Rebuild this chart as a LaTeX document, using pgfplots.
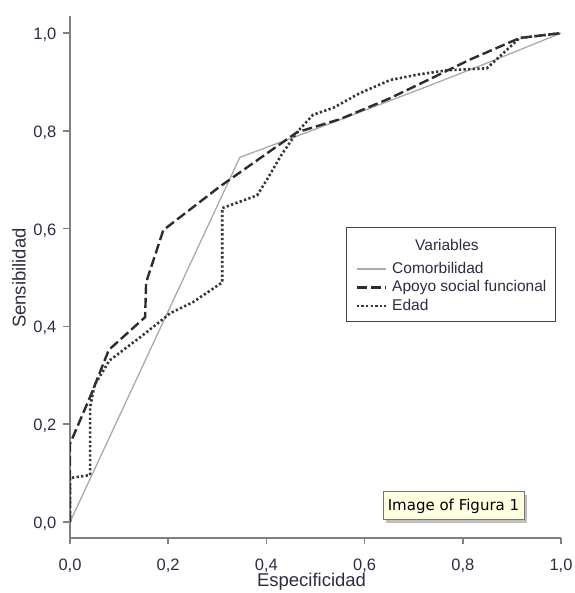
\documentclass[border=0pt]{standalone}
\usepackage{fontspec}
\setmainfont{Liberation Sans}
\newfontfamily\tipfont{DejaVu Sans}
\usepackage{pgfplots}
\pgfplotsset{compat=1.18}
\definecolor{axgray}{RGB}{128,128,128}
\definecolor{txt}{RGB}{45,45,65}
\definecolor{comgray}{RGB}{170,170,170}
\definecolor{dark}{RGB}{45,45,45}
\definecolor{dotc}{RGB}{55,55,55}
\definecolor{tipfill}{RGB}{255,255,225}
\definecolor{legdraw}{RGB}{70,70,70}
\begin{document}
\begin{tikzpicture}
\begin{axis}[
  at={(70bp,55bp)}, anchor=south west,
  scale only axis, width=491bp, height=522bp,
  xmin=0, xmax=1, ymin=-0.0327, ymax=1.035,
  axis x line*=bottom, axis y line*=left,
  axis line style={axgray, line width=1.5bp, -},
  xtick={0,0.2,0.4,0.6,0.8,1}, ytick={0,0.2,0.4,0.6,0.8,1},
  minor tick num=0,
  tick align=outside, major tick length=6.5bp,
  tick style={axgray, line width=1.5bp},
  tick label style={font=\fontsize{16.5bp}{19bp}\selectfont, text=txt, inner sep=0pt},
  xticklabel style={anchor=base, yshift=-26bp},
  yticklabel style={anchor=base east, xshift=-7bp, yshift=-6.5bp},
  /pgf/number format/use comma,
  /pgf/number format/fixed,
  /pgf/number format/fixed zerofill,
  /pgf/number format/precision=1,
  /pgf/number format/assume math mode=true,
  xlabel={Especificidad}, ylabel={Sensibilidad},
  label style={font=\fontsize{18.5bp}{21bp}\selectfont, text=txt, inner sep=0pt},
  xlabel style={at={(axis description cs:0.4919,-0.0935)}, anchor=base},
  ylabel style={at={(axis description cs:-0.0906,0.498)}, anchor=base},
  legend cell align=left,
  legend style={at={(0.5621,0.5958)}, anchor=north west, draw=legdraw,
    line width=1.2bp, inner xsep=9bp, inner ysep=8bp, row sep=3.5bp, column sep=5bp,
    nodes={inner sep=0pt, text depth=, font=\fontsize{15.5bp}{18bp}\selectfont, text=txt}},
  legend image code/.code={\draw[#1] (0bp,0bp) -- (29bp,0bp);},
]
\addlegendimage{empty legend}
\addlegendentry{\hspace*{23bp}\rule[-8bp]{0pt}{22.5bp}Variables}

\addplot[comgray, line width=1.3bp] coordinates {
  (0,0) (0.346,0.746) (0.48,0.796) (0.72,0.888) (0.86,0.943) (1,1)};
\addlegendentry{\rule[-3.5bp]{0pt}{15bp}Comorbilidad}

\addplot[dark, line width=2.4bp, dash pattern=on 10bp off 4bp] coordinates {
  (0,0) (0,0.16) (0.041,0.256) (0.079,0.352) (0.153,0.419) (0.155,0.49)
  (0.19,0.597) (0.305,0.686) (0.387,0.744) (0.462,0.797) (0.55,0.824)
  (0.65,0.866) (0.733,0.906) (0.815,0.946) (0.916,0.99) (1,1)};
\addlegendentry{\rule[-3.5bp]{0pt}{15bp}Apoyo social funcional}

\addplot[dotc, line width=2.6bp, dash pattern=on 2.3bp off 2.3bp] coordinates {
  (0,0) (0,0.09) (0.041,0.096) (0.041,0.235) (0.05,0.28) (0.08,0.33)
  (0.122,0.362) (0.143,0.378) (0.183,0.410) (0.204,0.427) (0.251,0.45)
  (0.31,0.49) (0.31,0.642) (0.381,0.668) (0.401,0.70) (0.43,0.75)
  (0.462,0.797) (0.495,0.833) (0.536,0.847) (0.59,0.877) (0.652,0.904)
  (0.707,0.915) (0.768,0.924) (0.849,0.928) (0.916,0.99) (1,1)};
\addlegendentry{\rule[-3.5bp]{0pt}{15bp}Edad}
\end{axis}
\fill[black, opacity=0.25] (386bp,70bp) rectangle (527bp,98bp);
\draw[fill=tipfill, draw={rgb,255:red,118;green,118;blue,118}, line width=1bp]
  (383bp,73bp) rectangle (524bp,101bp);
\node[font=\tipfont\fontsize{15bp}{17bp}\selectfont, text=black, inner sep=0pt]
  at (453.5bp,87bp) {Image of Figura 1};
\pgfresetboundingbox
\useasboundingbox (0,0) rectangle (575bp,593bp);
\end{tikzpicture}
\end{document}
